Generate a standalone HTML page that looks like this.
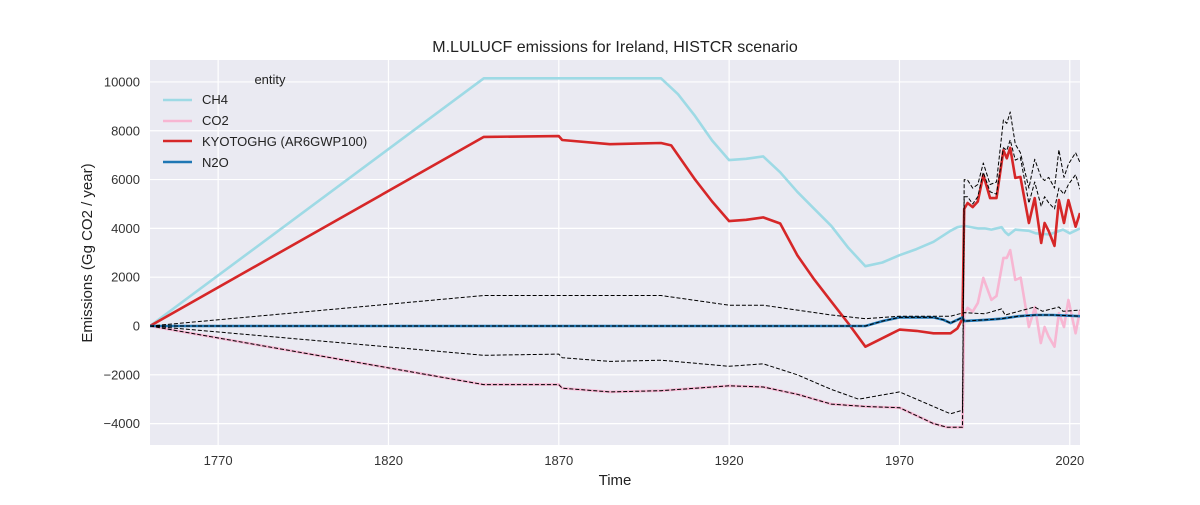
<!DOCTYPE html>
<html><head><meta charset="utf-8"><style>
body{margin:0;background:#fff;font-family:"Liberation Sans",sans-serif}
svg text{font-family:"Liberation Sans",sans-serif}
</style></head><body>
<svg id="c" width="1200" height="500" xmlns="http://www.w3.org/2000/svg"></svg>
<script>
const ch4Years=[1750,1848,1900,1905,1910,1915,1920,1925,1930,1935,1940,1945,1950,1955,1960,1965,1970,1975,1980,1985,1987,1989,1993,1995,1997,2000,2001,2002,2004,2008,2010,2014,2016,2018,2020,2023];
const ch4Vals=[0,10150,10150,9500,8600,7600,6800,6850,6950,6300,5500,4800,4100,3200,2450,2600,2900,3150,3450,3900,4050,4100,4000,4000,3950,4050,3850,3730,3950,3900,3800,3750,3850,3950,3800,4000];
const kyYears=[1750,1848,1870,1871,1885,1900,1903,1910,1915,1920,1925,1930,1935,1940,1945,1950,1955,1960,1965,1970,1975,1980,1985,1987,1988.5,1989,1990,1991.5,1993,1994.6,1996.6,1998.5,2000.5,2001.5,2002.5,2004,2005.5,2008,2009.7,2011.6,2012.6,2013.8,2015.5,2016.8,2018.3,2019.6,2021.7,2023];
const kyVals=[0,7750,7780,7620,7450,7500,7400,6000,5100,4300,4350,4450,4200,2900,1900,1000,100,-850,-500,-150,-200,-300,-300,-100,300,4800,5040,4870,5100,6190,5240,5240,7200,6870,7300,6070,6110,4220,5240,3400,4220,3890,3280,5160,4220,5160,4070,4630];
const co2Years=[1750,1848,1870,1871,1885,1900,1920,1930,1940,1950,1960,1970,1980,1984,1988.5,1989,1990,1991.5,1993,1994.6,1997,1998.5,2000.5,2001.5,2002.5,2004,2005.6,2008,2009.8,2011.5,2012.6,2013.8,2015.5,2016.8,2018.3,2019.6,2021.7,2023];
const co2Vals=[0,-2400,-2400,-2550,-2700,-2650,-2450,-2500,-2800,-3200,-3300,-3350,-4000,-4150,-4150,500,740,590,940,1970,1070,1230,2790,2790,3110,1890,1980,-40,780,-700,-40,-440,-850,530,-40,1070,-300,650];
const n2oYears=[1750,1960,1965,1970,1980,1983,1985,1988.5,1989,1995,2000,2005,2010,2015,2023];
const n2oVals=[0,0,200,350,350,250,120,350,200,250,300,400,450,450,400];
const d1Years=[1750,1848,1900,1920,1930,1950,1960,1970,1985,1989,1995,2000,2001,2005,2009.7,2012,2016.8,2018,2023];
const d1Vals=[0,1250,1250,850,850,450,300,400,400,550,500,700,450,600,780,600,780,600,650];
const d2Years=[1750,1848,1870,1871,1885,1900,1920,1930,1940,1950,1958,1970,1980,1985,1988.5,1989,1990,1991.5,1993,1994.6,1996.6,1998.5,2000.5,2001.5,2002.5,2004,2005.5,2008,2009.7,2011.6,2012.6,2013.8,2015.5,2016.8,2018.3,2019.6,2021.7,2023];
const d2Vals=[0,-1200,-1150,-1300,-1450,-1400,-1650,-1550,-2000,-2600,-3000,-2700,-3300,-3600,-3450,6000,5980,5650,5800,6680,5800,5900,8440,8300,8770,7450,7100,5650,6830,6090,5960,6090,5650,7220,6090,6630,7100,6700];
const d3Years=[1750,1848,1870,1871,1885,1900,1920,1930,1940,1950,1960,1970,1980,1984,1988.5,1989,1990,1991.5,1993,1994.6,1996.6,1998.5,2000.5,2001.5,2002.5,2004,2005.5,2008,2009.7,2011.6,2012.6,2013.8,2015.5,2016.8,2018.3,2019.6,2021.7,2023];
const d3Vals=[0,-2400,-2400,-2550,-2700,-2650,-2450,-2500,-2800,-3200,-3300,-3350,-4000,-4150,-4150,5300,5300,5000,5300,6300,5500,5400,7300,7200,7620,6800,6900,5030,5900,4900,5300,5050,4800,5650,5400,5800,6200,5600];
const xTicks=[1770,1820,1870,1920,1970,2020];
const yTicks=[-4000,-2000,0,2000,4000,6000,8000,10000];

const L=150,R=1080,T=60,B=445,XMIN=1750,XMAX=2023,YMIN=-4877,YMAX=10900;
const sx=v=>L+(v-XMIN)/(XMAX-XMIN)*(R-L);
const sy=v=>B-(v-YMIN)/(YMAX-YMIN)*(B-T);
const svg=document.getElementById('c');const NS='http://www.w3.org/2000/svg';
function mk(tag,attrs,parent){const e=document.createElementNS(NS,tag);for(const k in attrs)e.setAttribute(k,attrs[k]);(parent||svg).appendChild(e);return e;}
const bg=mk('rect',{x:L,y:T,width:R-L,height:B-T,fill:'#eaeaf2'});


xTicks.forEach(t=>{
 const g=mk('line',{x1:sx(t),x2:sx(t),y1:T,y2:B,stroke:'#fff','stroke-width':1.2});
 
 
 const tx=mk('text',{x:sx(t),y:B+20,'text-anchor':'middle','font-size':13,fill:'#333'});tx.textContent=t;
 
 
});
yTicks.forEach(t=>{
 const g=mk('line',{x1:L,x2:R,y1:sy(t),y2:sy(t),stroke:'#fff','stroke-width':1.2});
 
 
 const tx=mk('text',{x:L-10,y:sy(t)+4.5,'text-anchor':'end','font-size':13,fill:'#333'});tx.textContent=String(t).replace('-','\u2212');
 
 
});
const clip=mk('clipPath',{id:'pc'});mk('rect',{x:L,y:T,width:R-L,height:B-T},clip);
function line(xs,vs,color,w,dash,name){
 const d=xs.map((x,i)=>(i?'L':'M')+sx(x).toFixed(1)+','+sy(vs[i]).toFixed(1)).join('');
 const p=mk('path',{d:d,fill:'none',stroke:color,'stroke-width':w,'stroke-linejoin':'round','clip-path':'url(#pc)'});
 if(dash)p.setAttribute('stroke-dasharray',dash);
 
 
}
line(ch4Years,ch4Vals,'#9edae5',2.6,null,'ch4-line');
line(co2Years,co2Vals,'#f7b6d2',2.6,null,'co2-line');
line(kyYears,kyVals,'#d62728',2.6,null,'kyotoghg-line');
line(n2oYears,n2oVals,'#1f77b4',2.6,null,'n2o-line');
line(d1Years,d1Vals,'#000',1,'4,2','range-upper-dashed');
line(d2Years,d2Vals,'#000',1,'4,2','range-lower-dashed');
line(d3Years,d3Vals,'#000',1,'4,2','range-bound-dashed');
line(n2oYears,n2oVals,'#000',1,'4,2','n2o-range-dashed');
</script>
<svg width="1200" height="500" style="position:absolute;left:0;top:0">
<text x="615" y="52" text-anchor="middle" font-size="16" fill="#222">M.LULUCF emissions for Ireland, HISTCR scenario</text>
<text x="615" y="485" text-anchor="middle" font-size="15" fill="#222">Time</text>
<text x="92" y="253" text-anchor="middle" font-size="15" fill="#222" transform="rotate(-90 92 253)">Emissions (Gg CO2 / year)</text>
<g font-size="13" fill="#222">
<text x="270" y="84" text-anchor="middle">entity</text>
<line x1="163" x2="192" y1="100" y2="100" stroke="#9edae5" stroke-width="2.6"/>
<text x="202" y="104">CH4</text>
<line x1="163" x2="192" y1="121" y2="121" stroke="#f7b6d2" stroke-width="2.6"/>
<text x="202" y="125">CO2</text>
<line x1="163" x2="192" y1="141" y2="141" stroke="#d62728" stroke-width="2.6"/>
<text x="202" y="146">KYOTOGHG (AR6GWP100)</text>
<line x1="163" x2="192" y1="162" y2="162" stroke="#1f77b4" stroke-width="2.6"/>
<text x="202" y="167">N2O</text>
</g>
</svg>
</body></html>
